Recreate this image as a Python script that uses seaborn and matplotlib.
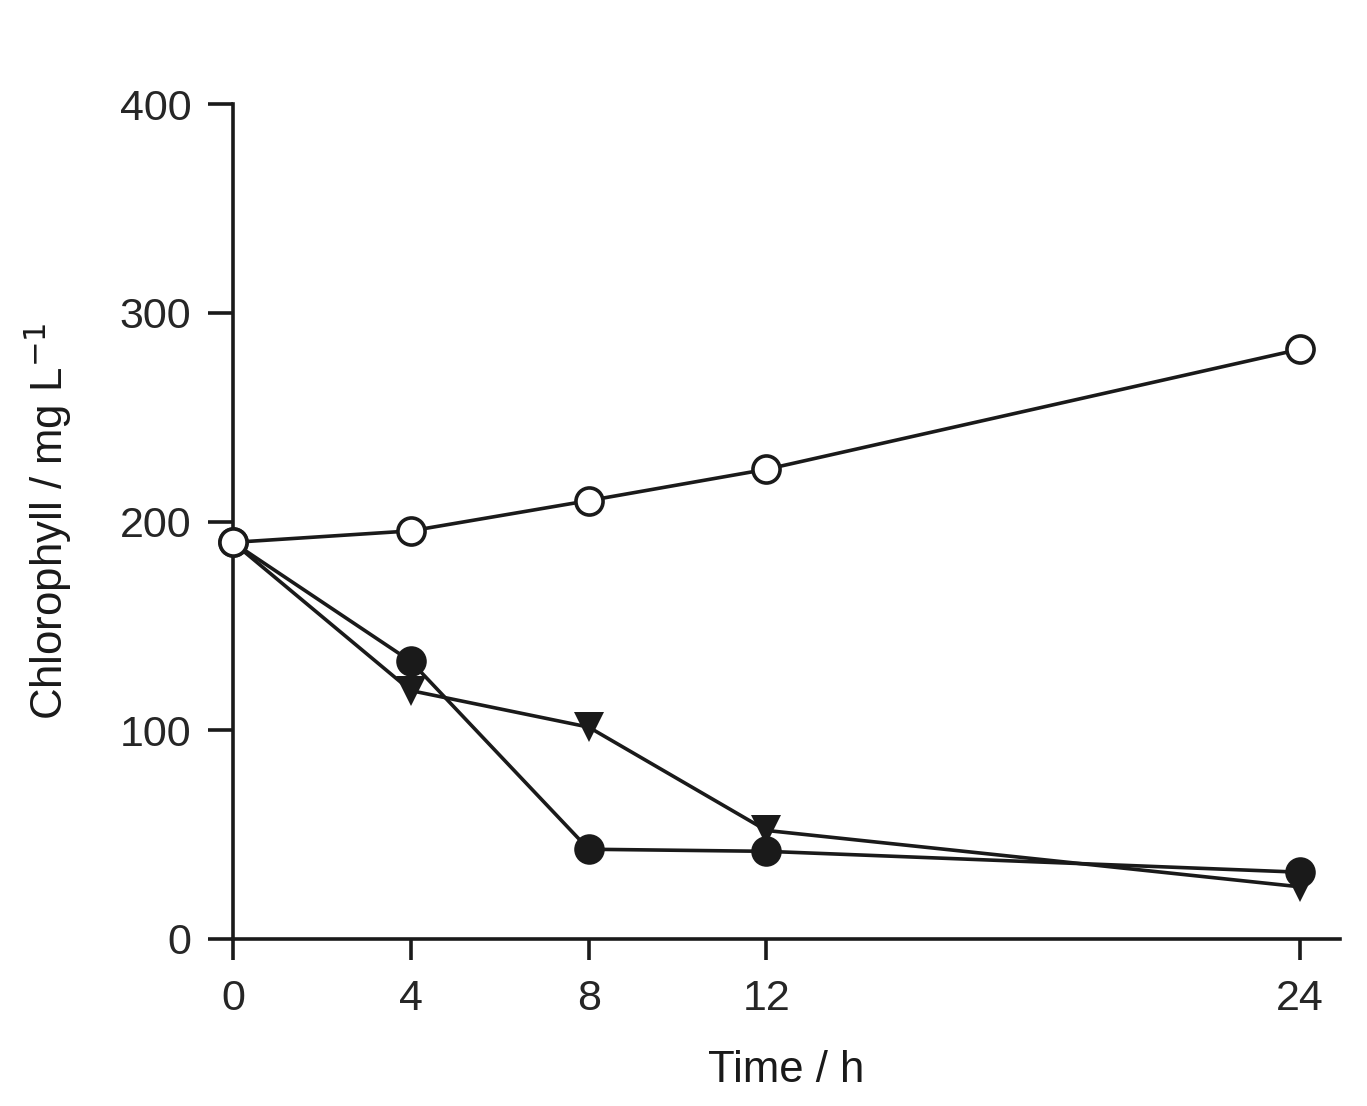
import numpy as np
import pandas as pd
import matplotlib
matplotlib.use("Agg")
import matplotlib.pyplot as plt
import seaborn as sns

# 数据
time_h = [0, 4, 8, 12, 24]
open_circle = [190, 195.5, 210, 225, 282.5]
filled_circle = [190, 133, 43, 42, 32]
filled_triangle = [190, 119, 101.5, 52, 25]

sns.set_theme(style="white")
plt.rcParams['font.family'] = ['Liberation Sans', 'DejaVu Sans']

fig = plt.figure(figsize=(13.67, 11.06), dpi=100, facecolor='white')
ax = fig.add_axes([233 / 1367, 1 - 939 / 1106, (1340 - 233) / 1367, (939 - 104) / 1106])

lw = 2.6
ink = '#1a1a1a'

# 起点被空心圆遮住，三角形不画第一个点
sns.lineplot(x=time_h, y=filled_triangle, ax=ax, color=ink, linewidth=lw,
             marker='v', markersize=21, markerfacecolor=ink, markeredgecolor=ink,
             markeredgewidth=0, markevery=[1, 2, 3, 4], clip_on=False, zorder=3)
sns.lineplot(x=time_h, y=filled_circle, ax=ax, color=ink, linewidth=lw,
             marker='o', markersize=22, markerfacecolor=ink, markeredgecolor=ink,
             markeredgewidth=0, clip_on=False, zorder=4)
sns.lineplot(x=time_h, y=open_circle, ax=ax, color=ink, linewidth=lw,
             marker='o', markersize=19.5, markerfacecolor='white', markeredgecolor=ink,
             markeredgewidth=2.6, clip_on=False, zorder=5)

ax.set_xlim(0, 24.9)
ax.set_ylim(0, 400)
ax.set_xticks(time_h)
ax.set_yticks([0, 100, 200, 300, 400])

for s in ['top', 'right']:
    ax.spines[s].set_visible(False)
for s in ['left', 'bottom']:
    ax.spines[s].set_color(ink)
    ax.spines[s].set_linewidth(2.6)
    ax.spines[s].set_zorder(1)

ax.tick_params(axis='y', direction='out', length=18, width=2.6, color=ink,
               labelsize=31, pad=12, left=True)
ax.tick_params(axis='x', direction='out', length=15, width=2.6, color=ink,
               labelsize=31, pad=14, bottom=True)

ax.set_xlabel('Time / h', fontsize=31.5, color=ink, labelpad=22)
ax.set_ylabel('Chlorophyll / mg L$^{-1}$', fontsize=31.5, color=ink, labelpad=33)
ax.grid(False)

plt.savefig('out.png', dpi=100, facecolor='white')
plt.close()
